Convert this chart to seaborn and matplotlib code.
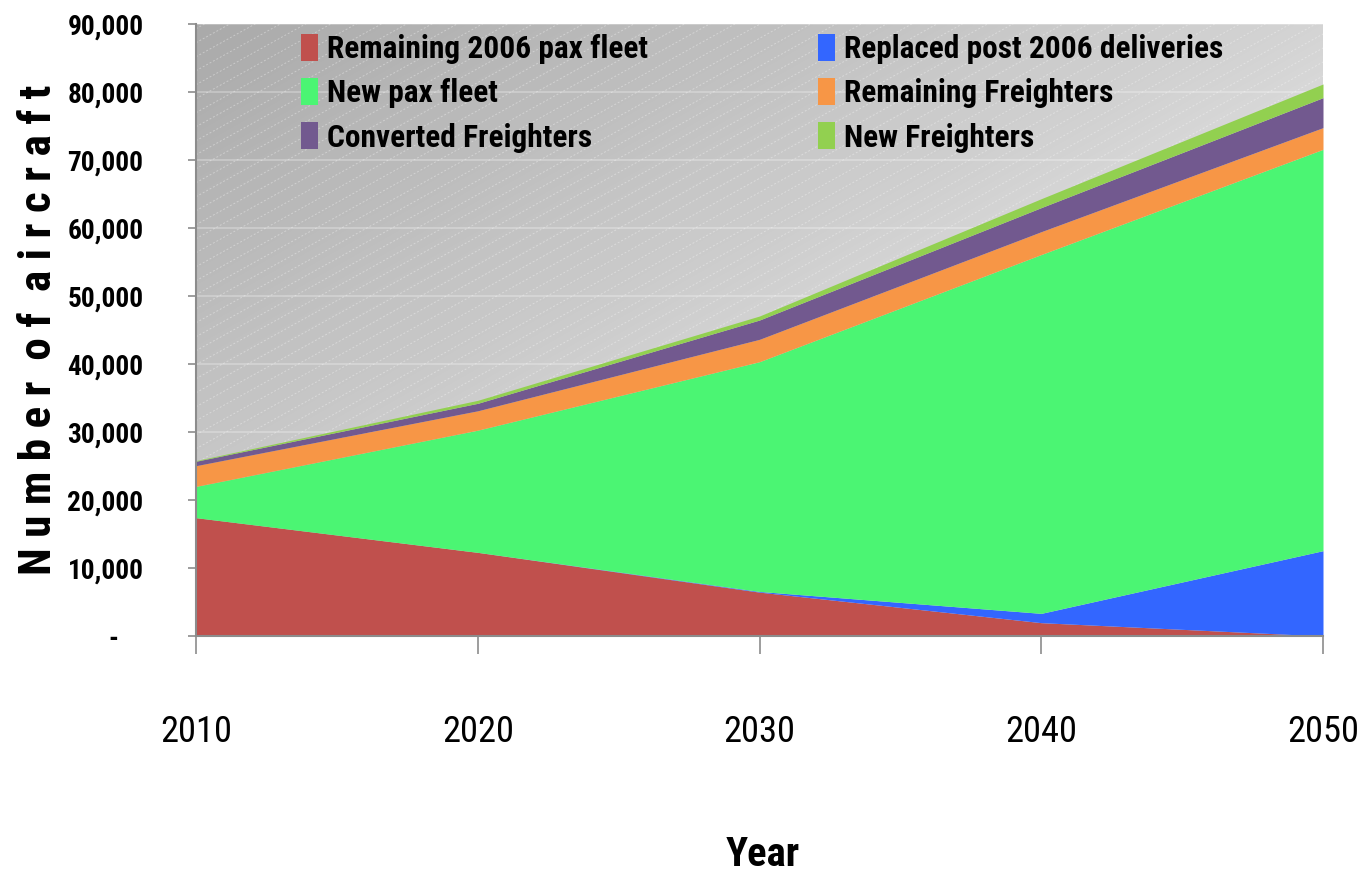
import numpy as np
import matplotlib
matplotlib.use("Agg")
import matplotlib.pyplot as plt
import seaborn as sns
from matplotlib import font_manager as fm
from matplotlib.ticker import FuncFormatter

# Aircraft fleet projection (number of aircraft), stacked bottom to top
years = [2010, 2020, 2030, 2040, 2050]
remaining_2006_pax = [17400, 12300, 6450, 1960, 0]
replaced_post_2006 = [0, 0, 100, 1370, 12550]
new_pax_fleet = [4600, 17970, 33790, 52770, 59020]
remaining_freighters = [3050, 2850, 3290, 3360, 3190]
converted_freighters = [650, 1100, 2840, 3540, 4410]
new_freighters = [100, 440, 590, 1310, 2010]

series_names = ["Remaining 2006 pax fleet", "Replaced post 2006 deliveries",
                "New pax fleet", "Remaining Freighters",
                "Converted Freighters", "New Freighters"]
series_colors = ["#C0504D", "#3366FF", "#4BF573", "#F79646", "#72598F", "#92D050"]
y_ticks = list(range(0, 90001, 10000))

sns.set_style("white")


def pick_narrow_font():
    """Prefer a condensed sans family; otherwise the narrowest common sans."""
    entries = fm.fontManager.ttflist
    names = {f.name for f in entries}
    for fam in ["Liberation Sans Narrow", "Arial Narrow", "Roboto Condensed",
                "Open Sans Condensed", "Noto Sans Condensed", "DejaVu Sans Condensed"]:
        if fam in names:
            return fam, "normal"
    for fam in ["Noto Sans", "Open Sans", "DejaVu Sans", "Roboto", "Liberation Sans"]:
        for st in ["condensed", "semi-condensed"]:
            if any(f.name == fam and f.stretch == st and f.weight in ("bold", 700)
                   for f in entries):
                return fam, st
    for fam in ["Roboto", "Liberation Sans", "DejaVu Sans"]:
        if fam in names:
            return fam, "normal"
    return "DejaVu Sans", "normal"


FAMILY, STRETCH = pick_narrow_font()
plt.rcParams["font.family"] = [FAMILY, "DejaVu Sans"]
plt.rcParams["font.stretch"] = STRETCH
plt.rcParams["text.color"] = "black"

palette = sns.color_palette(series_colors)

fig = plt.figure(figsize=(13.72, 8.8), dpi=100)
renderer = fig.canvas.get_renderer()


def fit_size(s, width_px, weight="bold", base=20.0):
    """Font size (pt) at which string s spans about width_px pixels."""
    t = fig.text(0, 0, s, fontsize=base, fontweight=weight,
                 family=[FAMILY, "DejaVu Sans"], fontstretch=STRETCH)
    w = t.get_window_extent(renderer).width
    t.remove()
    return base * width_px / w


W_PX, H_PX = 1127, 612
ax = fig.add_axes([196 / 1372, 1 - 636 / 880, W_PX / 1372, H_PX / 880])

# Grey diagonal gradient background
nx, ny = 300, 200
gx = np.linspace(0, 1, nx)[None, :]
gy = np.linspace(1, 0, ny)[:, None]
shade = np.clip(170 + 42 * gx + 40 * (1 - gy), 0, 226) / 255.0
img = np.dstack([shade, shade, shade])
ax.imshow(img, extent=[years[0], years[-1], 0, y_ticks[-1]], aspect="auto",
          origin="upper", zorder=0.1, interpolation="bilinear")

# Fine dotted diagonal texture over the background
slope = np.tan(np.radians(29))
for c in np.arange(-W_PX * slope, H_PX, 14):
    xs = np.array([0.0, W_PX])
    ys = c + xs * slope
    ax.plot(xs / W_PX, ys / H_PX, transform=ax.transAxes, color="white",
            lw=0.7, ls=(0, (2, 2)), alpha=0.35, zorder=0.3, clip_on=True)

ax.set_axisbelow(True)
ax.yaxis.grid(True, color="white", alpha=0.3, lw=1.2)
ax.xaxis.grid(False)

layers = ax.stackplot(years, remaining_2006_pax, replaced_post_2006, new_pax_fleet,
                      remaining_freighters, converted_freighters, new_freighters,
                      colors=palette, labels=series_names, zorder=1, lw=0)

ax.set_xlim(years[0], years[-1])
ax.set_ylim(0, y_ticks[-1])
ax.set_xticks(years)
ax.set_yticks(y_ticks)
ax.yaxis.set_major_formatter(FuncFormatter(
    lambda v, p: "-    " if v == 0 else f"{int(v):,}"))

for s in ["top", "right"]:
    ax.spines[s].set_visible(False)
for s in ["left", "bottom"]:
    ax.spines[s].set_color("#8c8c8c")
    ax.spines[s].set_linewidth(1.5)

ytick_size = min(fit_size("90,000", 76), 24)
xtick_size = min(fit_size("2010", 72, weight="normal"), 32)
ax.tick_params(axis="y", direction="out", length=5.8, width=1.2, color="#8c8c8c",
               pad=32, labelsize=ytick_size, labelcolor="black", left=True)
ax.tick_params(axis="x", direction="out", length=13, width=1.2, color="#8c8c8c",
               pad=43, labelsize=xtick_size, labelcolor="black", bottom=True)
for lab in ax.get_yticklabels():
    lab.set_fontweight("bold")

ylabel_text = "N u m b e r  o f  a i r c r a f t"
fig.text(39 / 1372, 1 - 330 / 880, ylabel_text, rotation=90, ha="center",
         va="center", fontsize=min(fit_size(ylabel_text, 490), 34),
         fontweight="bold")
fig.text(763 / 1372, 1 - 855 / 880, "Year", ha="center", va="center",
         fontsize=min(fit_size("Year", 74), 33), fontweight="bold")

# Two legend columns
leg_size = min(fit_size(series_names[0], 320), 25)
leg_px = leg_size * 100 / 72
leg_kw = dict(frameon=False, handlelength=17 / leg_px, handleheight=29 / leg_px,
              handletextpad=0.3, labelspacing=0.45, borderpad=0, borderaxespad=0,
              loc="upper left",
              prop={"weight": "bold", "size": leg_size,
                    "family": [FAMILY, "DejaVu Sans"], "stretch": STRETCH})
col1 = [0, 2, 4]
col2 = [1, 3, 5]
fig.legend([layers[i] for i in col1], [series_names[i] for i in col1],
           bbox_to_anchor=(301 / 1372, 1 - 34 / 880), **leg_kw)
fig.legend([layers[i] for i in col2], [series_names[i] for i in col2],
           bbox_to_anchor=(818 / 1372, 1 - 34 / 880), **leg_kw)

fig.savefig("out.png", dpi=100)
